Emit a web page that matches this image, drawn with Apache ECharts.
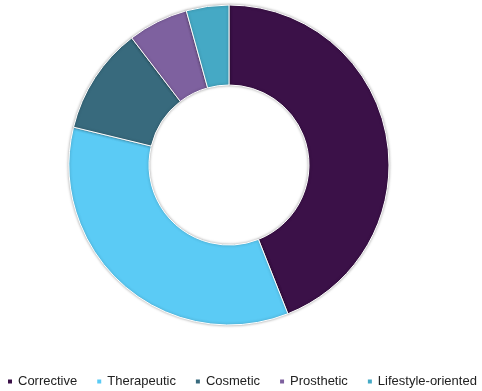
<!DOCTYPE html>
<html>
<head>
<meta charset="utf-8">
<script src="https://cdn.jsdelivr.net/npm/echarts@6/dist/echarts.min.js"></script>
<style>
html,body{margin:0;padding:0;background:#fff;}
#chart{width:482px;height:391px;}
</style>
</head>
<body>
<div id="chart"></div>
<script>
const categories = ['Corrective', 'Therapeutic', 'Cosmetic', 'Prosthetic', 'Lifestyle-oriented'];
const values = [44.0, 34.8, 10.8, 6.1, 4.3];
const colors = ['#3b1148', '#5bcbf5', '#386a7d', '#7e619f', '#45a9c5'];

const chart = echarts.init(document.getElementById('chart'), null, {renderer: 'canvas'});
chart.setOption({
  animation: false,
  color: colors,
  legend: {
    data: categories,
    left: 1,
    top: 370,
    width: 481,
    padding: [5, 0, 5, 5],
    icon: 'rect',
    itemWidth: 6,
    itemHeight: 6,
    itemGap: 18,
    textStyle: {fontFamily: 'Liberation Sans, Arial, sans-serif', fontSize: 13, color: '#222'}
  },
  series: [{
    type: 'pie',
    center: [229, 165],
    radius: [80, 160],
    startAngle: 90,
    clockwise: true,
    label: {show: false},
    labelLine: {show: false},
    itemStyle: {
      borderColor: '#fff',
      borderWidth: 1,
      shadowBlur: 3,
      shadowColor: 'rgba(0,0,0,0.35)'
    },
    emphasis: {disabled: true},
    data: categories.map((c, i) => ({name: c, value: values[i]}))
  }]
});
</script>
</body>
</html>
